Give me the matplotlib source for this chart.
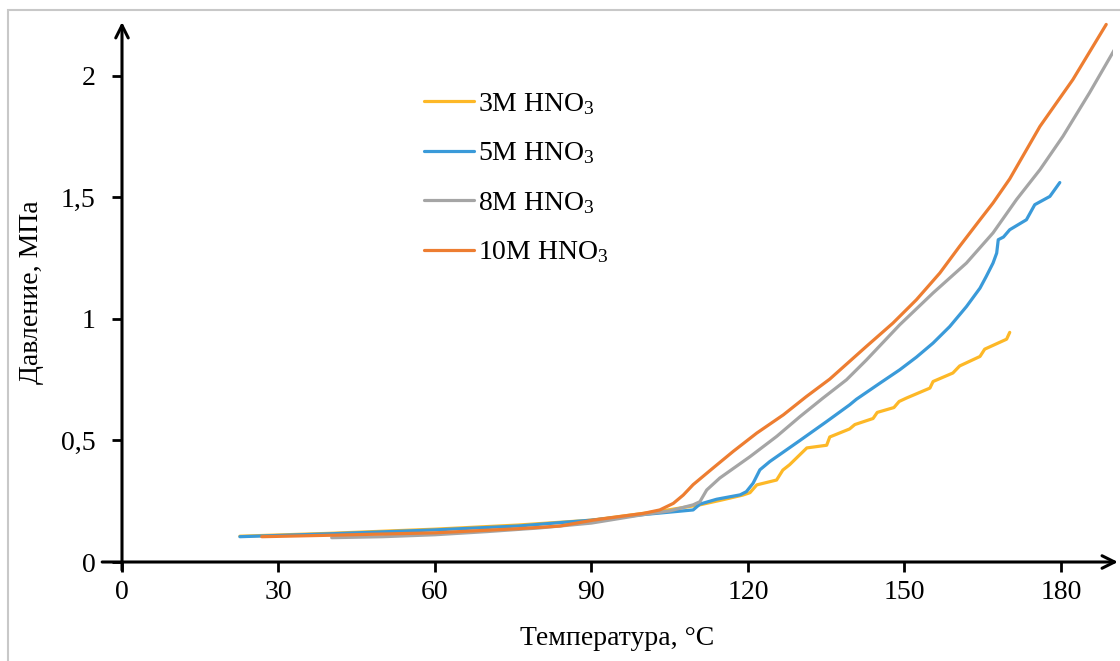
import matplotlib
matplotlib.use('Agg')
import matplotlib.pyplot as plt
from matplotlib.patches import Rectangle
from matplotlib.ticker import FuncFormatter

plt.rcParams['font.family'] = ['Liberation Serif', 'DejaVu Serif']
plt.rcParams['mathtext.fontset'] = 'custom'
plt.rcParams['mathtext.rm'] = 'Liberation Serif'
plt.rcParams['mathtext.it'] = 'Liberation Serif:italic'

# ---- data
x_3m = [22.6, 40, 60, 76, 90, 100, 105, 110.8, 115, 119, 120.4, 121.7, 125.5, 126.7, 128,
        131.3, 135.1, 135.7, 139.5, 140.5, 144, 144.8, 148, 149, 150.4, 154.9, 155.5,
        159.3, 160.6, 164.5, 165.4, 169.6, 170.2]
y_3m = [0.106, 0.118, 0.135, 0.152, 0.172, 0.2, 0.215, 0.235, 0.255, 0.275, 0.285, 0.317,
        0.337, 0.378, 0.40, 0.469, 0.48, 0.514, 0.547, 0.565, 0.59, 0.615, 0.635, 0.66,
        0.674, 0.715, 0.742, 0.777, 0.806, 0.845, 0.875, 0.916, 0.944]

x_5m = [22.6, 40, 60, 76, 84, 90, 100, 105, 109.5, 110.8, 114, 118.5, 119.7, 121, 122.3,
        124.2, 130, 135, 139.5, 140.8, 145.3, 149.1, 152.3, 155.5, 158.7, 161.9, 164.5,
        165.7, 167, 167.7, 168, 169, 170.2, 173.4, 175, 177.9, 179.8]
y_5m = [0.104, 0.116, 0.132, 0.148, 0.162, 0.172, 0.195, 0.205, 0.214, 0.238, 0.258, 0.276,
        0.289, 0.324, 0.379, 0.413, 0.50, 0.576, 0.646, 0.669, 0.735, 0.79, 0.842, 0.9,
        0.968, 1.05, 1.126, 1.174, 1.229, 1.27, 1.325, 1.336, 1.366, 1.407, 1.469, 1.503,
        1.56]

x_8m = [40.2, 50, 60, 70, 80, 90, 100, 105, 109.5, 110.8, 112.1, 114.6, 120.4, 125.5,
        130, 134.4, 138.9, 142.7, 149.1, 155.5, 161.9, 167, 171.5, 176, 180.4, 185.5,
        190.3]
y_8m = [0.1, 0.104, 0.112, 0.125, 0.14, 0.16, 0.195, 0.21, 0.235, 0.248, 0.296, 0.345,
        0.433, 0.516, 0.598, 0.674, 0.749, 0.83, 0.975, 1.106, 1.229, 1.353, 1.49, 1.613,
        1.75, 1.929, 2.107]

x_10m = [26.8, 40, 60, 76, 84, 90.3, 100, 103.1, 105.7, 107.6, 109.5, 113.3, 117.2, 121.7,
         126.8, 131.2, 135.7, 142.7, 147.8, 152.3, 156.8, 160.6, 164.5, 167, 170.2, 176,
         182.3, 188.7]
y_10m = [0.104, 0.11, 0.12, 0.137, 0.148, 0.172, 0.2, 0.214, 0.241, 0.275, 0.318, 0.386,
         0.455, 0.53, 0.605, 0.68, 0.752, 0.886, 0.982, 1.078, 1.188, 1.298, 1.407, 1.476,
         1.575, 1.791, 1.983, 2.21]

labels = ['3M HNO$_3$', '5M HNO$_3$', '8M HNO$_3$', '10M HNO$_3$']
colors = ['#FDB827', '#3A9AD9', '#A5A5A5', '#ED7D31']

xticks = [0, 30, 60, 90, 120, 150, 180]
yticks = [0, 0.5, 1, 1.5, 2]

# ---- figure
fig = plt.figure(figsize=(11.2, 6.61), dpi=100)
fig.patches.append(Rectangle((8 / 1120, -0.1), 1.2, 1 - 10 / 661 + 0.1,
                             transform=fig.transFigure, fill=False,
                             edgecolor='#C8C8C8', linewidth=1.5))

ax = fig.add_axes([122 / 1120, 1 - 562 / 661, 991 / 1120, 540 / 661])
ax.set_xlim(0, 190)
ax.set_ylim(0, 2.22)

series = [(x_3m, y_3m), (x_5m, y_5m), (x_8m, y_8m), (x_10m, y_10m)]
for (x, y), label, color in zip(series, labels, colors):
    ax.plot(x, y, color=color, linewidth=2.3, label=label,
            solid_capstyle='round', solid_joinstyle='round')

for side in ['top', 'right', 'left', 'bottom']:
    ax.spines[side].set_visible(False)

# axes with arrow heads
arrow = dict(arrowstyle='->,head_length=0.9,head_width=0.45', color='black',
             linewidth=2.2, shrinkA=0, shrinkB=0)
ax.annotate('', xy=(1.005, 0), xytext=(-0.02, 0), xycoords='axes fraction',
            arrowprops=arrow, annotation_clip=False)
ax.annotate('', xy=(0, 1.0), xytext=(0, -0.015), xycoords='axes fraction',
            arrowprops=arrow, annotation_clip=False)

ax.set_xticks(xticks)
ax.set_yticks(yticks)
ax.yaxis.set_major_formatter(FuncFormatter(lambda v, p: f'{v:g}'.replace('.', ',')))
ax.tick_params(axis='both', labelsize=20, length=7, width=2, direction='out', color='black')
ax.tick_params(axis='x', pad=6)
ax.tick_params(axis='y', pad=12)

ax.set_xlabel('Температура, °C', fontsize=20, labelpad=15)
ax.set_ylabel('Давление, МПа', fontsize=20, labelpad=12)

ax.legend(loc='upper left', bbox_to_anchor=(0.305, 0.872), frameon=False, fontsize=20,
          handlelength=1.8, handletextpad=0.12, labelspacing=0.85, borderpad=0,
          borderaxespad=0)

fig.savefig('out.png', dpi=100)
